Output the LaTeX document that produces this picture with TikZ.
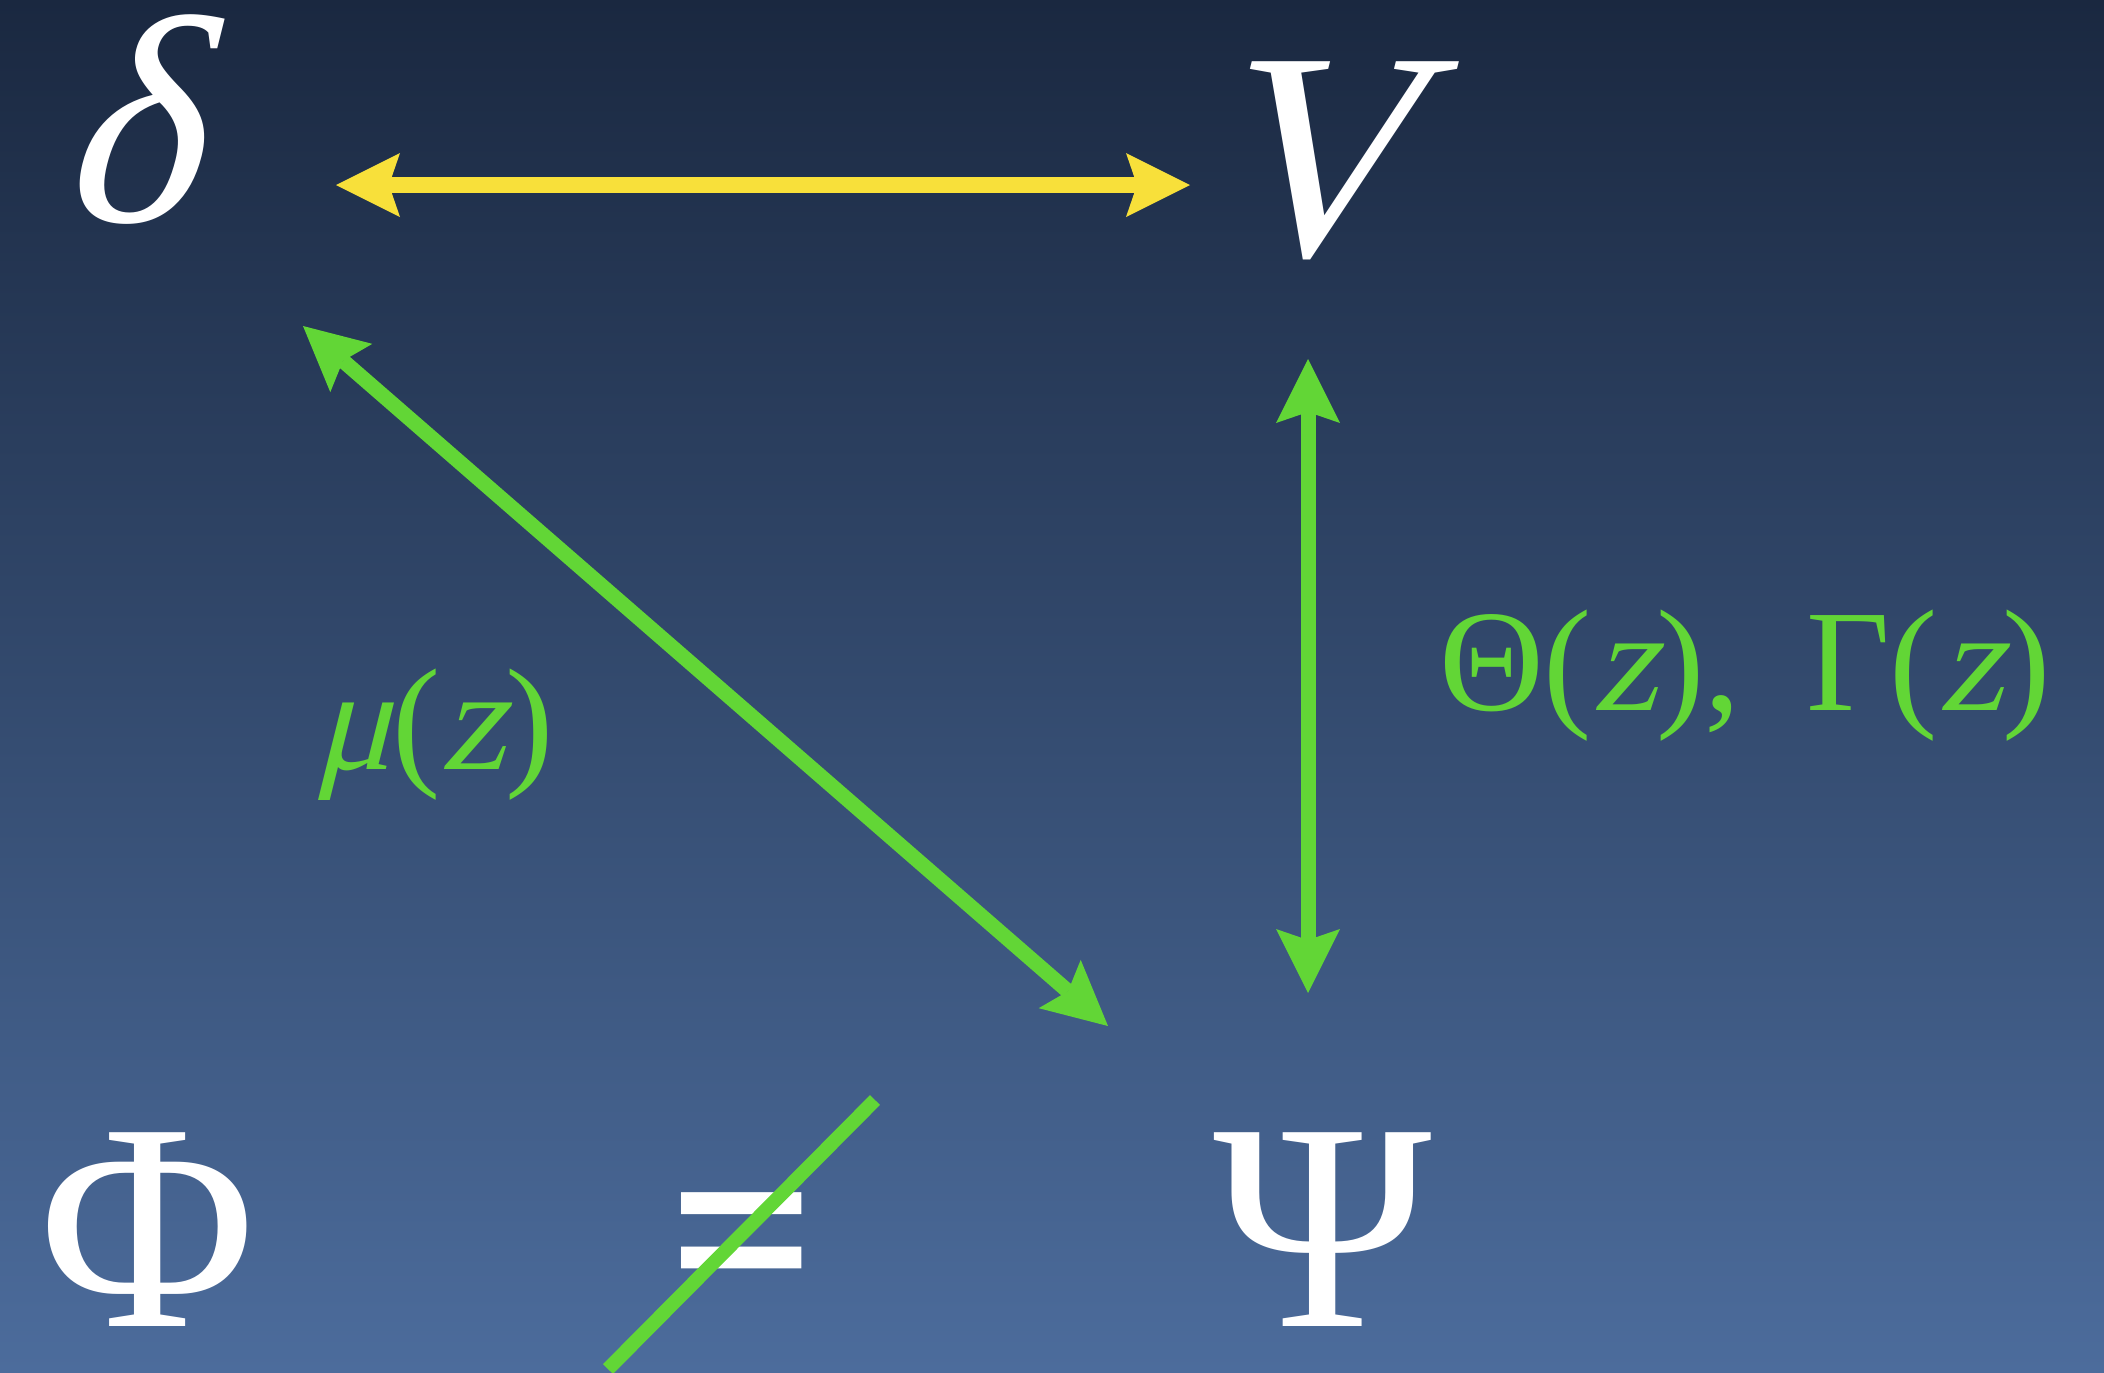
\documentclass[tikz,border=0pt]{standalone}
\usepackage{fontspec}
\setmainfont{Liberation Serif}
\newfontfamily\slfont{Liberation Serif}[FakeSlant=0.25]
\newfontfamily\eqfont{Liberation Sans Bold}
\usetikzlibrary{arrows.meta}
\definecolor{bgtop}{HTML}{1A2840}
\definecolor{bgbot}{HTML}{4C6C9C}
\definecolor{lgreen}{HTML}{62D636}
\definecolor{lyellow}{HTML}{F8E03A}
\begin{document}
\begin{tikzpicture}[x=0.5pt,y=-0.5pt,
  big/.style={text=white,inner sep=0pt,font=\fontsize{148}{150}\selectfont},
  lbl/.style={text=lgreen,inner sep=0pt,font=\fontsize{72.5}{75}\selectfont},
  tipA/.tip={Stealth[length=32pt,width=32pt,inset=5.5pt,line width=0pt]},
  yarr/.style={draw=lyellow,line width=8pt,{tipA}-{tipA}},
  garr/.style={draw=lgreen,line width=7.5pt,{tipA}-{tipA}},
  slash/.style={draw=lgreen,line width=7pt}]
\useasboundingbox (0,0) rectangle (2104,1372);
\shade[top color=bgtop,bottom color=bgbot] (0,0) rectangle (2104,1372);
% main symbols
\node[big] (delta) at (127,120) {\slfont δ};
\node[big] (V) at (1307,161) {\slfont V};
\node[big] (Phi) at (148,1230) {Φ};
\node[big] (Psi) at (1323,1230) {Ψ};
\node[text=white,inner sep=0pt,anchor=base,font=\eqfont\fontsize{120}{122}\selectfont] (neq) at (742,1297) {\scalebox{1}[0.84]{=}};
% connectors
\draw[yarr] ([shift={(209,65)}]delta.center) -- ([shift={(-117,24)}]V.center);
\draw[garr] ([shift={(176,206)}]delta.center) -- ([shift={(-215,-204)}]Psi.center);
\draw[garr] ([shift={(1,198)}]V.center) -- ([shift={(-15,-237)}]Psi.center);
% slash of the not-equal sign
\draw[slash] ([shift={(-134,72)}]neq.base) -- ([shift={(133,-197)}]neq.base);
% labels
\node[lbl] (mu) at (434,735) {{\slfont μ}({\slfont z})};
\node[lbl] (thg) at (1745,676) {Θ({\slfont z}),\hspace{0.45em}Γ({\slfont z})};
\end{tikzpicture}
\end{document}
